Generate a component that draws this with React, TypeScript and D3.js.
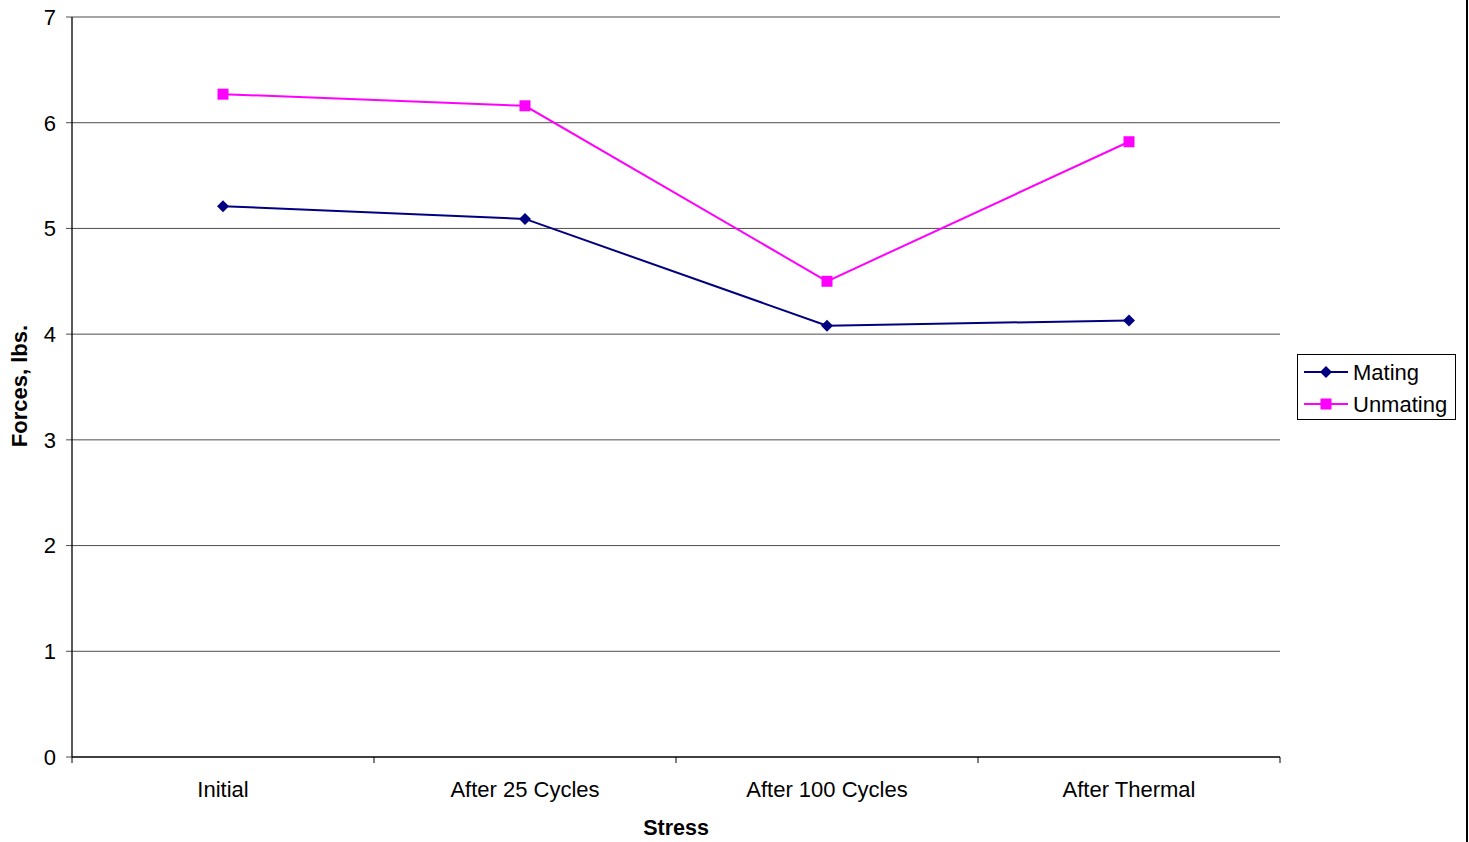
import React from "react";
import * as d3 from "d3";

const categories = ["Initial", "After 25 Cycles", "After 100 Cycles", "After Thermal"];
const mating = [5.21, 5.09, 4.08, 4.13];
const unmating = [6.27, 6.16, 4.5, 5.82];
const yTicks = [0, 1, 2, 3, 4, 5, 6, 7];
const seriesNames = ["Mating", "Unmating"];

const W = 1469, H = 842;
const L = 72, R = 1280, T = 17, B = 757;
const font = "'Liberation Sans', Arial, sans-serif";

export default function App() {
  const x = d3.scaleBand<string>().domain(categories).range([L, R]);
  const y = d3.scaleLinear().domain([0, 7]).range([B, T]);
  const cx = (c: string) => (x(c) as number) + x.bandwidth() / 2;
  const line = d3.line<number>().x((_, i) => cx(categories[i])).y((v) => y(v));
  const colors = ["#000080", "#FF00FF"];
  const data = [mating, unmating];

  const diamond = (px: number, py: number, s = 6) =>
    `M${px},${py - s}L${px + s},${py}L${px},${py + s}L${px - s},${py}Z`;

  const marker = (k: number, px: number, py: number, key: string) =>
    k === 0 ? (
      <path key={key} d={diamond(px, py)} fill={colors[0]} />
    ) : (
      <rect key={key} x={px - 5.5} y={py - 5.5} width={11} height={11} fill={colors[1]} />
    );

  const boundaries = [L, ...categories.map((c) => (x(c) as number) + x.bandwidth())];

  return (
    <svg width={W} height={H} style={{ position: "absolute", left: 0, top: 0, background: "#fff" }} fontFamily={font}>
      {yTicks.map((t) => (
        <g key={t}>
          {t > 0 && <line x1={L} x2={R} y1={y(t)} y2={y(t)} stroke="#4d4d4d" strokeWidth={1} />}
          <line x1={L - 6} x2={L} y1={y(t)} y2={y(t)} stroke="#4d4d4d" strokeWidth={1} />
          <text x={56} y={y(t)} dy="0.36em" textAnchor="end" fontSize={22} fill="#000">{t}</text>
        </g>
      ))}
      <line x1={L} x2={L} y1={T} y2={B} stroke="#000" strokeWidth={1.3} />
      <line x1={L} x2={R} y1={B} y2={B} stroke="#000" strokeWidth={1.3} />
      {boundaries.map((b, i) => (
        <line key={i} x1={b} x2={b} y1={B} y2={B + 6} stroke="#000" strokeWidth={1} />
      ))}
      {categories.map((c) => (
        <text key={c} x={cx(c)} y={789} dy="0.36em" textAnchor="middle" fontSize={22} fill="#000">{c}</text>
      ))}
      <text x={676} y={827} dy="0.36em" textAnchor="middle" fontSize={21.5} fontWeight="bold">Stress</text>
      <text transform={`translate(19,386) rotate(-90)`} dy="0.36em" textAnchor="middle" fontSize={22} fontWeight="bold">Forces, lbs.</text>
      {data.map((d, k) => (
        <g key={k}>
          <path d={line(d) as string} fill="none" stroke={colors[k]} strokeWidth={2} />
          {d.map((v, i) => marker(k, cx(categories[i]), y(v), `${k}-${i}`))}
        </g>
      ))}
      <rect x={1297.5} y={354.5} width={158} height={65} fill="#fff" stroke="#000" strokeWidth={1} />
      {seriesNames.map((n, k) => {
        const ly = 372 + k * 32;
        return (
          <g key={n}>
            <line x1={1304} x2={1348} y1={ly} y2={ly} stroke={colors[k]} strokeWidth={2} />
            {marker(k, 1326, ly, `leg-${k}`)}
            <text x={1353} y={ly} dy="0.36em" fontSize={22}>{n}</text>
          </g>
        );
      })}
      <line x1={1467} x2={1467} y1={0} y2={H} stroke="#000" strokeWidth={2} />
    </svg>
  );
}
